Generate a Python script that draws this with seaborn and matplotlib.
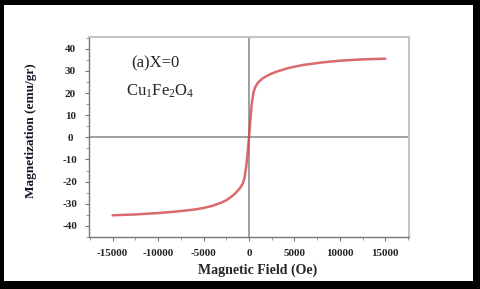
"""Recreate the M-H hysteresis curve of Cu1Fe2O4 (X=0)."""
import matplotlib
matplotlib.use("Agg")
import matplotlib.pyplot as plt
import pandas as pd
import seaborn as sns
from matplotlib.patches import Rectangle
from matplotlib.ticker import MultipleLocator

# values
field_oe = [-15000, -12500, -10000, -8000, -6000, -5000, -4000, -3000, -2500,
            -2000, -1500, -1000, -700, -500, -300, -150, 0, 150, 300, 500,
            700, 1000, 1500, 2000, 2500, 3000, 4000, 5000, 6000, 8000,
            10000, 12500, 15000]
magnetization = [-35.2, -34.8, -34.2, -33.5, -32.6, -31.9, -30.9, -29.4, -28.4,
                 -27.0, -25.3, -23.0, -21.0, -18.5, -13.0, -7.0, 0.0, 8.0, 15.0, 20.5,
                 22.8, 24.8, 26.6, 27.8, 28.8, 29.6, 30.9, 31.9, 32.7, 33.8,
                 34.6, 35.2, 35.5]
y_ticks = [-40, -30, -20, -10, 0, 10, 20, 30, 40]
x_ticks = [-15000, -10000, -5000, 0, 5000, 10000, 15000]

df = pd.DataFrame({"H": field_oe, "M": magnetization})

sns.set_theme(style="white")
plt.rcParams["font.family"] = ["Liberation Serif", "DejaVu Serif"]
plt.rcParams["mathtext.fontset"] = "custom"
plt.rcParams["mathtext.rm"] = "Liberation Serif"
plt.rcParams["mathtext.it"] = "Liberation Serif"
plt.rcParams["axes.unicode_minus"] = False

fig = plt.figure(figsize=(4.8, 2.89), dpi=100, facecolor="black")
fig.add_artist(Rectangle((4 / 480, 8 / 289), 469 / 480, 276 / 289,
                         transform=fig.transFigure, facecolor="white",
                         edgecolor="none", zorder=-5))
ax = fig.add_axes([89 / 480, 52 / 289, 320 / 480, 200 / 289])
ax.set_zorder(2)
ax.set_facecolor("white")

ax.axhline(0, color="#8f8f8f", lw=1.2, zorder=1)
ax.axvline(0, color="#8f8f8f", lw=1.2, zorder=1)
sns.lineplot(data=df, x="H", y="M", ax=ax, color="#d0454a", lw=1.8, alpha=0.8,
             zorder=3)

ax.set_xlim(-17600, 17600)
ax.set_ylim(-45, 45.3)
ax.set_xticks(x_ticks)
ax.set_yticks(y_ticks)
ax.xaxis.set_minor_locator(MultipleLocator(2500))
ax.yaxis.set_minor_locator(MultipleLocator(5))
ax.tick_params(which="major", direction="out", length=3, width=0.8,
               color="#777777", labelsize=8)
ax.tick_params(axis="x", which="major", pad=6)
ax.tick_params(axis="y", which="major", pad=10.5)
ax.tick_params(which="minor", direction="out", length=2, width=0.6,
               color="#888888")
ax.tick_params(axis="both", which="both", left=True, bottom=True)
for lab in ax.get_xticklabels():
    lab.set_fontweight("bold")
for lab in ax.get_yticklabels():
    lab.set_fontweight("bold")
    lab.set_horizontalalignment("center")

for side in ["left", "bottom"]:
    ax.spines[side].set_color("#777777")
    ax.spines[side].set_linewidth(1.0)
for side in ["top", "right"]:
    ax.spines[side].set_color("#c4c4c4")
    ax.spines[side].set_linewidth(1.5)

ax.set_xlabel("Magnetic Field (Oe)", fontsize=10, fontweight="bold")
ax.xaxis.set_label_coords(0.528, -0.135)
ax.set_ylabel("Magnetization (emu/gr)", fontsize=9.5, fontweight="bold",
              color="#101828")
ax.yaxis.set_label_coords(-0.163, 0.53)

ax.text(-13000, 33.3, "(a)X=0", fontsize=12, ha="left", va="center")
ax.text(-13500, 20.8, r"Cu$_1$Fe$_2$O$_4$", fontsize=12, ha="left", va="center")

fig.savefig("out.png", dpi=100, facecolor="black")
